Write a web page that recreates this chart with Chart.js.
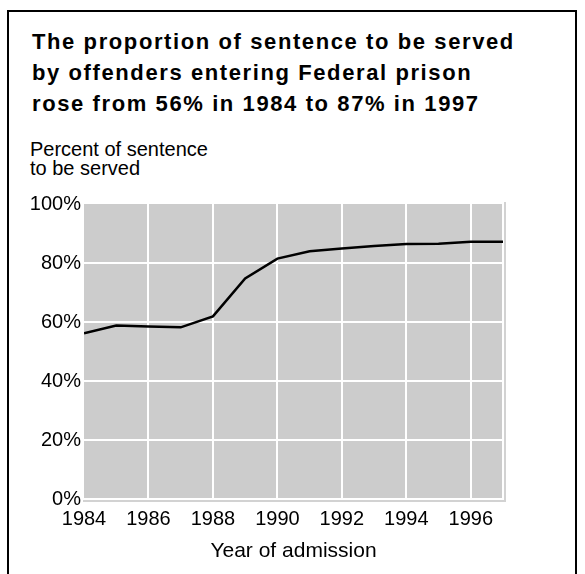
<!DOCTYPE html>
<html>
<head>
<meta charset="utf-8">
<script src="https://cdn.jsdelivr.net/npm/chart.js@4"></script>
<style>
  html, body { margin: 0; padding: 0; background: #fff; width: 585px; height: 574px; overflow: hidden; }
  #frame { position: absolute; left: 7px; top: 10px; width: 566px; height: 620px; border: 2px solid #000; box-sizing: content-box; }
  #title { position: absolute; left: 32px; top: 26px; font: bold 22px "Liberation Sans", Arial, sans-serif; letter-spacing: 1.6px; line-height: 31px; color: #000; white-space: nowrap; }
  #ylabel { position: absolute; left: 30px; top: 140px; font: 20px "Liberation Sans", Arial, sans-serif; line-height: 19px; color: #000; white-space: nowrap; }
  canvas { position: absolute; left: 0; top: 0; }
</style>
</head>
<body>
<div id="frame"></div>
<div id="title">The proportion of sentence to be served<br>by offenders entering Federal prison<br>rose from 56% in 1984 to 87% in 1997</div>
<div id="ylabel">Percent of sentence<br>to be served</div>
<canvas id="c" width="585" height="574"></canvas>
<script>
// Data
const years = [1984, 1985, 1986, 1987, 1988, 1989, 1990, 1991, 1992, 1993, 1994, 1995, 1996, 1997];
const percentServed = [56.2, 58.8, 58.5, 58.2, 61.9, 74.8, 81.5, 84.0, 84.9, 85.8, 86.4, 86.5, 87.2, 87.2];
const xTickValues = [1984, 1986, 1988, 1990, 1992, 1994, 1996, 1997];
const xTickLabels = ['1984', '1986', '1988', '1990', '1992', '1994', '1996', ''];
const yTickValues = [0, 20, 40, 60, 80, 100];
const yTickLabels = ['0%', '20%', '40%', '60%', '80%', '100%'];

const FONT = '"Liberation Sans", Arial, sans-serif';

const plotBg = {
  id: 'plotBg',
  beforeDraw(chart) {
    const { ctx, chartArea: a } = chart;
    ctx.save();
    ctx.fillStyle = '#cccccc';
    ctx.fillRect(a.left, a.top, a.right - a.left, a.bottom - a.top);
    ctx.restore();
  },
  beforeDatasetsDraw(chart) {
    const { ctx, chartArea: a } = chart;
    ctx.save();
    ctx.strokeStyle = '#d2d2d2';
    ctx.lineWidth = 2;
    ctx.beginPath();
    ctx.moveTo(a.left - 1, a.bottom + 2);
    ctx.lineTo(a.right + 2, a.bottom + 2);
    ctx.lineTo(a.right + 2, a.top - 2);
    ctx.stroke();
    ctx.restore();
  }
};

new Chart(document.getElementById('c'), {
  type: 'line',
  data: {
    datasets: [{
      data: years.map((y, i) => ({ x: y, y: percentServed[i] })),
      borderColor: '#000',
      borderWidth: 2.5,
      pointRadius: 0,
      tension: 0,
      fill: false
    }]
  },
  options: {
    responsive: false,
    animation: false,
    devicePixelRatio: 1,
    layout: { padding: { left: 0, top: 204, right: 82, bottom: 0 } },
    plugins: { legend: { display: false }, tooltip: { enabled: false } },
    scales: {
      x: {
        type: 'linear',
        min: 1984,
        max: 1997,
        afterBuildTicks: (s) => { s.ticks = xTickValues.map(v => ({ value: v })); },
        afterFit: (s) => { s.height = 75; },
        ticks: {
          autoSkip: false,
          maxRotation: 0,
          padding: 8,
          color: '#000',
          font: { family: FONT, size: 20 },
          callback: (v) => xTickLabels[xTickValues.indexOf(v)]
        },
        grid: {
          drawTicks: false,
          lineWidth: 2,
          color: (c) => (c.tick && c.tick.value === 1984) ? 'rgba(0,0,0,0)' : '#ffffff'
        },
        border: { display: false },
        title: {
          display: true,
          text: 'Year of admission',
          color: '#000',
          font: { family: FONT, size: 21 },
          padding: { top: 0, bottom: 10 }
        }
      },
      y: {
        min: 0,
        max: 100,
        afterBuildTicks: (s) => { s.ticks = yTickValues.map(v => ({ value: v })); },
        afterFit: (s) => { s.width = 84; },
        ticks: {
          padding: 3,
          color: '#000',
          font: { family: FONT, size: 20 },
          callback: (v) => yTickLabels[yTickValues.indexOf(v)]
        },
        grid: {
          drawTicks: false,
          lineWidth: 2,
          color: (c) => (c.tick && c.tick.value === 100) ? 'rgba(0,0,0,0)' : '#ffffff'
        },
        border: { display: false }
      }
    }
  },
  plugins: [plotBg]
});
</script>
</body>
</html>
